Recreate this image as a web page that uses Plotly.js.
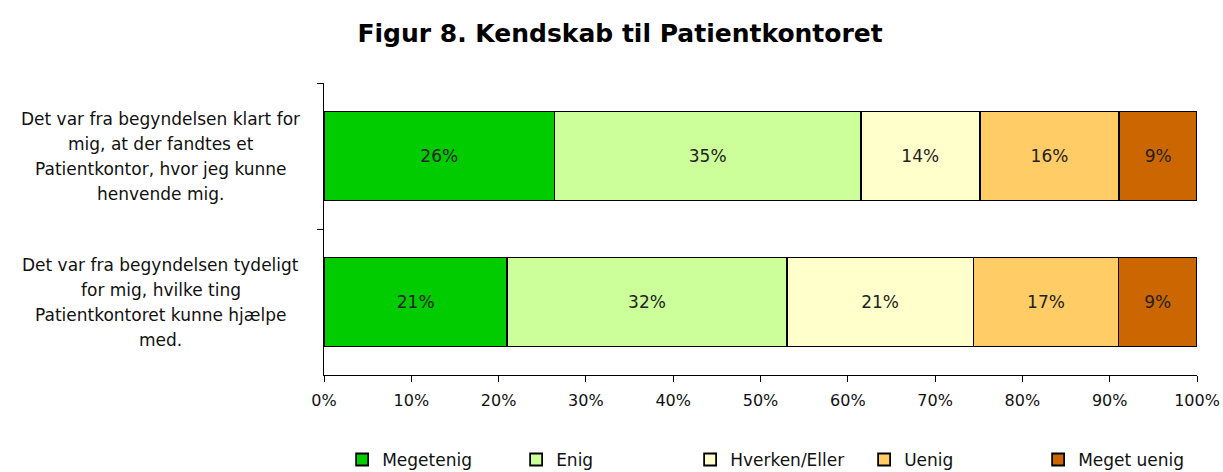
<!DOCTYPE html>
<html>
<head>
<meta charset="utf-8">
<script src="https://cdn.plot.ly/plotly-3.0.1.min.js"></script>
<style>html,body{margin:0;padding:0;background:#fff;}#chart{width:1223px;height:472px;}</style>
</head>
<body>
<div id="chart"></div>
<script>
// Data
const categoryLines = [
  ["Det var fra begyndelsen klart for", "mig, at der fandtes et", "Patientkontor, hvor jeg kunne", "henvende mig."],
  ["Det var fra begyndelsen tydeligt", "for mig, hvilke ting", "Patientkontoret kunne hjælpe", "med."]
];
const categories = ["Q1", "Q2"];
const seriesNames = ["Megetenig", "Enig", "Hverken/Eller", "Uenig", "Meget uenig"];
const megetEnig   = [26.4, 21.0];
const enig        = [35.1, 32.0];
const hverken     = [13.6, 21.4];
const uenig       = [16.0, 16.6];
const megetUenig  = [8.9, 9.0];
const seriesValues = [megetEnig, enig, hverken, uenig, megetUenig];
const colors = ["#00CC00", "#CCFF99", "#FFFFCC", "#FFCC66", "#CC6600"];

const FONT = "DejaVu Sans, sans-serif";

const traces = seriesNames.map((name, i) => ({
  type: "bar",
  orientation: "h",
  name: name,
  y: categories,
  x: seriesValues[i],
  text: seriesValues[i].map(v => Math.round(v) + "%"),
  textposition: "inside",
  insidetextanchor: "middle",
  textangle: 0,
  constraintext: "none",
  insidetextfont: {family: FONT, size: 17, color: "#222"},
  marker: {color: colors[i], line: {color: "#000", width: 1.8}},
  hoverinfo: "skip"
}));

const annotations = [];
categoryLines.forEach((lines, ci) => {
  const n = lines.length;
  lines.forEach((ln, j) => {
    annotations.push({
      xref: "paper", yref: "y",
      x: -0.187, y: categories[ci],
      xanchor: "center", yanchor: "middle",
      yshift: ((n - 1) / 2 - j) * 25,
      text: ln, showarrow: false,
      font: {family: FONT, size: 17, color: "#111"}
    });
  });
});

const layout = {
  width: 1223, height: 472,
  margin: {l: 324, r: 26, t: 83, b: 97, autoexpand: false},
  paper_bgcolor: "#fff", plot_bgcolor: "#fff",
  barmode: "stack",
  bargap: 0.39,
  font: {family: FONT, size: 16, color: "#111"},
  title: {
    text: "<b>Figur 8. Kendskab til Patientkontoret</b>",
    font: {family: FONT, size: 25, color: "#000"},
    x: 0.507, xanchor: "center", y: 0.93, yanchor: "middle"
  },
  xaxis: {
    range: [0, 100], dtick: 10, ticksuffix: "%",
    showline: true, linecolor: "#000", linewidth: 1,
    ticks: "outside", ticklen: 6, tickcolor: "#000",
    ticklabelstandoff: 5,
    showgrid: false, zeroline: false,
    tickfont: {family: FONT, size: 16, color: "#111"},
    fixedrange: true
  },
  yaxis: {
    type: "category", autorange: "reversed",
    showticklabels: false,
    showline: true, linecolor: "#000", linewidth: 1,
    ticks: "outside", tickson: "boundaries", ticklen: 6, tickcolor: "#000",
    showgrid: false, zeroline: false, fixedrange: true
  },
  showlegend: true,
  legend: {
    orientation: "h",
    x: -0.001, xanchor: "left",
    y: -0.291, yanchor: "middle",
    indentation: 19,
    entrywidth: 110, entrywidthmode: "pixels",
    font: {family: FONT, size: 17, color: "#111"},
    traceorder: "normal",
    itemwidth: 30
  },
  annotations: annotations
};

Plotly.newPlot("chart", traces, layout, {displayModeBar: false, staticPlot: true});
</script>
</body>
</html>
